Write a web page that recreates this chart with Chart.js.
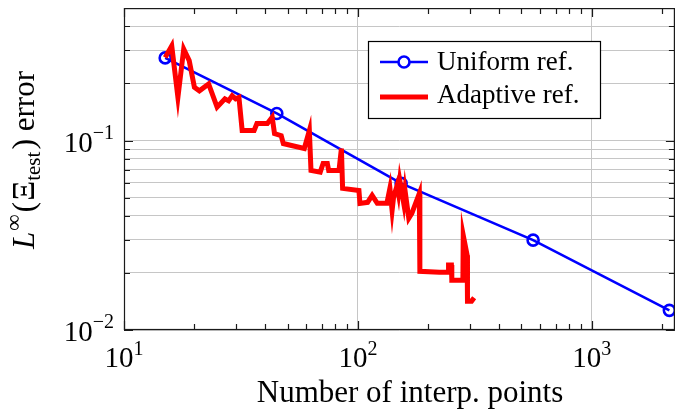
<!DOCTYPE html>
<html>
<head>
<meta charset="utf-8">
<script src="https://cdn.jsdelivr.net/npm/chart.js@4.4.1/dist/chart.umd.min.js"></script>
<style>
html, body { margin: 0; padding: 0; background: #fff; }
#wrap { width: 683px; height: 412px; position: relative; }
</style>
</head>
<body>
<div id="wrap"><canvas id="errChart"></canvas></div>
<script>
// uniform refinement: number of points and error
const uniformN = [15, 45, 153, 561, 2145];
const uniformErr = [0.273, 0.139, 0.0594, 0.0298, 0.0127];

// adaptive refinement
const adaptiveN = [15, 16, 17, 18, 19, 20, 21, 23, 25, 27, 28, 29, 30, 31, 32, 36, 37, 41, 43, 44, 47, 48, 52, 59, 62, 63, 69, 71, 74, 75, 83, 85, 86, 101, 102, 110, 115, 121, 133, 137, 140, 142, 147, 149, 151, 157, 159, 165, 170, 183, 184, 223, 243, 244, 251, 252, 281, 282, 293, 294, 306, 314];
const adaptiveErr = [0.274, 0.316, 0.169, 0.304, 0.264, 0.191, 0.183, 0.199, 0.150, 0.166, 0.162, 0.1725, 0.166, 0.169, 0.113, 0.113, 0.123, 0.123, 0.1327, 0.1088, 0.106, 0.0964, 0.0941, 0.0908, 0.1129, 0.0695, 0.0681, 0.0757, 0.0757, 0.0695, 0.0695, 0.0908, 0.0559, 0.0545, 0.0466, 0.0472, 0.0514, 0.0466, 0.0466, 0.0559, 0.0428, 0.0501, 0.0579, 0.0526, 0.0616, 0.0466, 0.0545, 0.0389, 0.0413, 0.0526, 0.0204, 0.0202, 0.0202, 0.0220, 0.0220, 0.0183, 0.0183, 0.0316, 0.0248, 0.0142, 0.0142, 0.0148];

const seriesNames = ['Uniform ref.', 'Adaptive ref.'];
const xTickExp = ['1', '2', '3'];
const yTickExp = ['\u22121', '\u22122'];
const xTitle = 'Number of interp. points';

const serif = '"Liberation Serif", "Times New Roman", serif';
const gridColor = '#c6c6c6';

function isDecade(v) {
    const l = Math.log10(v);
    return Math.abs(l - Math.round(l)) < 1e-6;
}

// ticks at 1..9 x 10^e between lo and hi
function logTicks(lo, hi) {
    const out = [];
    for (let e = Math.floor(Math.log10(lo)); e <= Math.ceil(Math.log10(hi)); e++) {
        for (let m = 1; m <= 9; m++) {
            const v = m * Math.pow(10, e);
            if (v >= lo * 0.999 && v <= hi * 1.001) out.push({ value: v });
        }
    }
    return out;
}

// draw a run of text pieces (with super/subscripts) on one baseline
function drawRich(ctx, parts, x, y, align) {
    let total = 0;
    parts.forEach(p => {
        ctx.font = (p.italic ? 'italic ' : '') + p.size + 'px ' + serif;
        p.w = ctx.measureText(p.t).width + (p.gap || 0);
        total += p.w;
    });
    let cx = x;
    if (align === 'center') cx = x - total / 2;
    if (align === 'right') cx = x - total;
    ctx.textAlign = 'left';
    ctx.textBaseline = 'alphabetic';
    parts.forEach(p => {
        ctx.font = (p.italic ? 'italic ' : '') + p.size + 'px ' + serif;
        ctx.fillText(p.t, cx, y + (p.dy || 0));
        cx += p.w;
    });
}

const texAxes = {
    id: 'texAxes',
    afterDraw(chart) {
        const ctx = chart.ctx;
        const a = chart.chartArea;
        const xs = chart.scales.x;
        const ys = chart.scales.y;
        ctx.save();
        ctx.strokeStyle = '#1a1a1a';
        ctx.lineWidth = 1.2;

        // inward tick marks
        ctx.beginPath();
        xs.ticks.forEach(t => {
            const px = Math.round(xs.getPixelForValue(t.value)) + 0.5;
            const len = isDecade(t.value) ? 9 : 6;
            ctx.moveTo(px, a.bottom); ctx.lineTo(px, a.bottom - len);
            ctx.moveTo(px, a.top); ctx.lineTo(px, a.top + len);
        });
        ys.ticks.forEach(t => {
            const py = Math.round(ys.getPixelForValue(t.value)) + 0.5;
            const len = isDecade(t.value) ? 9 : 6;
            ctx.moveTo(a.left, py); ctx.lineTo(a.left + len, py);
            ctx.moveTo(a.right, py); ctx.lineTo(a.right - len, py);
        });
        ctx.stroke();

        // frame
        ctx.strokeRect(a.left + 0.5, a.top + 0.5, a.right - a.left - 1, a.bottom - a.top - 1);

        // tick labels
        ctx.fillStyle = '#000';
        xTickExp.forEach(e => {
            const px = xs.getPixelForValue(Math.pow(10, Number(e)));
            drawRich(ctx, [{ t: '10', size: 29 }, { t: e, size: 20, dy: -12 }], px, a.bottom + 37, 'center');
        });
        yTickExp.forEach(e => {
            const py = ys.getPixelForValue(Math.pow(10, -Number(e.slice(1))));
            drawRich(ctx, [{ t: '10', size: 29 }, { t: e, size: 20, dy: -13 }], 114, py + 11, 'right');
        });

        // axis titles
        ctx.font = '31px ' + serif;
        ctx.textAlign = 'center';
        ctx.textBaseline = 'alphabetic';
        ctx.fillText(xTitle, 410, 402);

        ctx.save();
        ctx.translate(34, 160);
        ctx.rotate(-Math.PI / 2);
        drawRich(ctx, [
            { t: 'L', size: 31, italic: true, gap: 1 },
            { t: '\u221e', size: 23, dy: -13, gap: 2 },
            { t: '(', size: 32, gap: 1 },
            { t: '\u039e', size: 31 },
            { t: 'test', size: 21, dy: 6, gap: 2 },
            { t: ')', size: 32 },
            { t: ' error', size: 31 }
        ], 0, 0, 'center');
        ctx.restore();

        // legend box
        const ds = chart.data.datasets;
        ctx.fillStyle = '#fff';
        ctx.fillRect(368, 41, 233, 78);
        ctx.lineWidth = 1.2;
        ctx.strokeStyle = '#000';
        ctx.strokeRect(368.5, 41.5, 232, 77);

        ctx.strokeStyle = ds[0].borderColor;
        ctx.lineWidth = ds[0].borderWidth;
        ctx.beginPath();
        ctx.moveTo(380, 62); ctx.lineTo(428, 62);
        ctx.stroke();
        ctx.beginPath();
        ctx.arc(404, 62, ds[0].pointRadius, 0, Math.PI * 2);
        ctx.fillStyle = '#fff';
        ctx.fill();
        ctx.lineWidth = ds[0].pointBorderWidth;
        ctx.stroke();

        ctx.strokeStyle = ds[1].borderColor;
        ctx.lineWidth = ds[1].borderWidth;
        ctx.beginPath();
        ctx.moveTo(380, 97); ctx.lineTo(428, 97);
        ctx.stroke();

        ctx.fillStyle = '#000';
        ctx.font = '27px ' + serif;
        ctx.textAlign = 'left';
        ctx.fillText(ds[0].label, 437, 70);
        ctx.fillText(ds[1].label, 437, 103);
        ctx.restore();
    }
};

const ctx = document.getElementById('errChart').getContext('2d');
const chart = new Chart(ctx, {
    type: 'line',
    data: {
        datasets: [{
            label: seriesNames[0],
            data: uniformN.map((n, i) => ({ x: n, y: uniformErr[i] })),
            borderColor: '#0000ff',
            borderWidth: 2.6,
            pointRadius: 5.5,
            pointBorderWidth: 2.6,
            pointBackgroundColor: 'rgba(255,255,255,0)',
            pointBorderColor: '#0000ff',
            tension: 0,
            order: 2
        }, {
            label: seriesNames[1],
            data: adaptiveN.map((n, i) => ({ x: n, y: adaptiveErr[i] })),
            borderColor: '#ff0000',
            borderWidth: 5,
            borderJoinStyle: 'miter',
            pointRadius: 0,
            tension: 0,
            order: 1
        }]
    },
    options: {
        responsive: true,
        maintainAspectRatio: false,
        animation: false,
        layout: { padding: { left: 124, top: 7, right: 1, bottom: 82 } },
        plugins: {
            legend: { display: false },
            tooltip: { enabled: false }
        },
        scales: {
            x: {
                type: 'logarithmic',
                min: 10,
                max: 2265,
                afterBuildTicks: s => { s.ticks = logTicks(s.min, s.max); },
                afterFit: s => { s.height = 0; },
                ticks: { display: false },
                border: { display: false },
                grid: {
                    drawTicks: false,
                    lineWidth: 1,
                    color: c => (c.tick && isDecade(c.tick.value)) ? gridColor : 'rgba(0,0,0,0)'
                }
            },
            y: {
                type: 'logarithmic',
                min: 0.01,
                max: 0.5,
                afterBuildTicks: s => { s.ticks = logTicks(s.min, s.max); },
                afterFit: s => { s.width = 0; },
                ticks: { display: false },
                border: { display: false },
                grid: { drawTicks: false, lineWidth: 1, color: gridColor }
            }
        }
    },
    plugins: [texAxes]
});
</script>
</body>
</html>
